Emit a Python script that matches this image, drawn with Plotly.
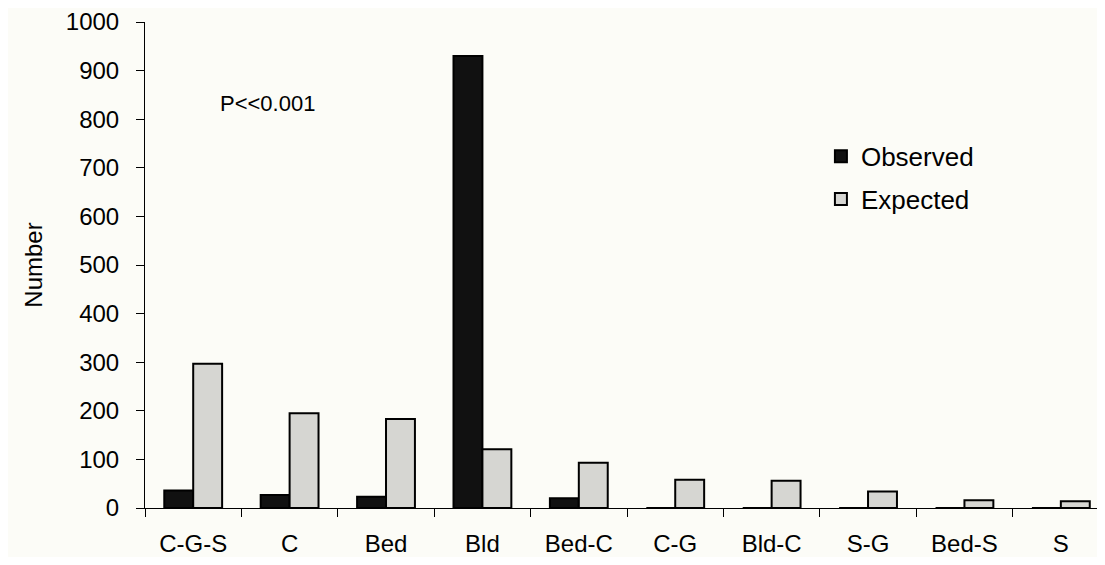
import plotly.graph_objects as go

categories = ["C-G-S", "C", "Bed", "Bld", "Bed-C", "C-G", "Bld-C", "S-G", "Bed-S", "S"]
observed = [36, 27, 23, 930, 20, 0, 0, 0, 0, 0]
expected = [297, 195, 183, 121, 93, 58, 56, 34, 16, 14]
y_ticks = list(range(0, 1001, 100))

font_family = "Liberation Sans, Arial, Helvetica, sans-serif"

fig = go.Figure()
fig.add_trace(go.Bar(x=categories, y=observed, name="Observed", legendgroup="o",
                     marker=dict(color="#111111", line=dict(color="#000000", width=2))))
fig.add_trace(go.Bar(x=categories, y=expected, name="Expected", legendgroup="e",
                     marker=dict(color="#d6d6d2", line=dict(color="#000000", width=2))))

fig.update_layout(
    width=1089, height=549,
    margin=dict(l=137, r=0, t=14, b=49),
    paper_bgcolor="#fcfcf7", plot_bgcolor="#fcfcf7",
    barmode="group", bargap=0.4, bargroupgap=0,
    font=dict(family=font_family, size=24, color="#000000"),
    showlegend=True,
    legend=dict(x=0.71, y=0.772, xanchor="left", yanchor="top",
                bgcolor="rgba(0,0,0,0)", font=dict(size=26), tracegroupgap=6,
                itemwidth=30),
    annotations=[dict(x=0.0767, y=833, xref="paper", yref="y", text="P<<0.001",
                      showarrow=False, xanchor="left", font=dict(size=22))],
)
fig.update_xaxes(range=[-0.5, 9.375], showline=True, linecolor="#000000", linewidth=1,
                 ticks="outside", tickson="boundaries", ticklen=8, tickcolor="#000000",
                 showgrid=False, zeroline=False, tickfont=dict(size=24),
                 ticklabelstandoff=14)
fig.update_yaxes(range=[0, 1000], tickvals=y_ticks, showline=True, linecolor="#000000",
                 linewidth=1, ticks="outside", ticklen=8, tickcolor="#000000",
                 showgrid=False, zeroline=False, tickfont=dict(size=24),
                 ticklabelstandoff=12,
                 title=dict(text="Number", font=dict(size=24), standoff=16))

fig.write_html("out.html")
